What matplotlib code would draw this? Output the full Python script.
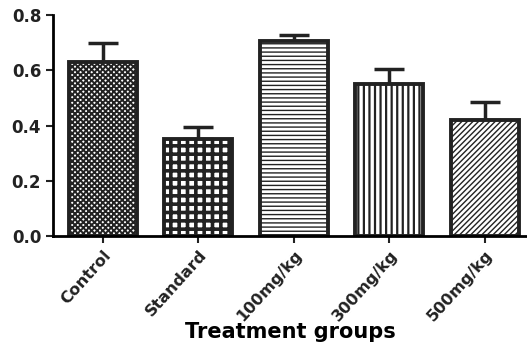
import numpy as np
import matplotlib
matplotlib.use("Agg")
import matplotlib.pyplot as plt

groups = ["Control", "Standard", "100mg/kg", "300mg/kg", "500mg/kg"]
means = [0.63, 0.35, 0.705, 0.55, 0.42]
errors = [0.07, 0.045, 0.022, 0.055, 0.065]
hatches = ["xxxxxx", "++", "----", "|||", "//////"]
hatch_widths = [1.4, 2.6, 1.0, 1.6, 1.0]

plt.rcParams["font.family"] = "DejaVu Sans"
plt.rcParams["font.weight"] = "bold"

fig = plt.figure(figsize=(5.27, 3.47), dpi=100)
ax = fig.add_axes([53 / 527, 1 - 236 / 347, (527 - 53) / 527, 221 / 347])

x = np.arange(len(groups))
for i in range(len(groups)):
    with plt.rc_context({"hatch.linewidth": hatch_widths[i]}):
        ax.bar(x[i], means[i], width=0.71, color="white", edgecolor="#222222",
               linewidth=2.8, hatch=hatches[i], zorder=2)
ax.errorbar(x, means, yerr=[np.zeros(len(errors)), errors], fmt="none",
            ecolor="#222222", elinewidth=2.5, capsize=11, capthick=2.5, zorder=1)

ax.set_xlim(-0.52, 4.44)
ax.set_ylim(0, 0.8)
ax.set_yticks([0.0, 0.2, 0.4, 0.6, 0.8])
ax.set_yticklabels(["0.0", "0.2", "0.4", "0.6", "0.8"], fontsize=12, fontweight="bold")
ax.set_xticks(x)
ax.set_xticklabels(groups, rotation=48, ha="right", rotation_mode="anchor",
                   fontsize=11.5, fontweight="bold")
ax.set_xlabel("Treatment groups", fontsize=15, fontweight="bold", labelpad=-1)

for side in ["top", "right"]:
    ax.spines[side].set_visible(False)
for side in ["left", "bottom"]:
    ax.spines[side].set_linewidth(2)
ax.tick_params(width=1.5, length=5, color="#222222", colors="#222222")
ax.tick_params(axis="x", pad=3)

fig.savefig("out.png", dpi=100)
